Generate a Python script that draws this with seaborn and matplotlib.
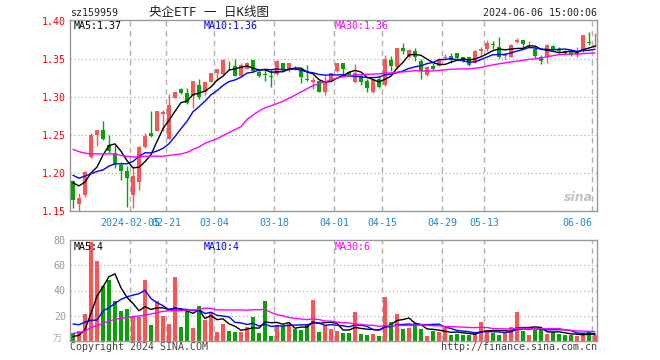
import numpy as np
import pandas as pd
import matplotlib
matplotlib.use("Agg")
import matplotlib.pyplot as plt
import seaborn as sns

# %% data (sz159959, daily K-line)
holidays = ["2024-02-09", "2024-02-12", "2024-02-13", "2024-02-14", "2024-02-15",
            "2024-02-16", "2024-04-04", "2024-04-05", "2024-05-01", "2024-05-02",
            "2024-05-03"]
days = pd.bdate_range("2024-01-22", "2024-06-06")
days = days[~days.isin(pd.to_datetime(holidays))]

opens = np.array([
    1.189, 1.159, 1.171, 1.221, 1.250, 1.256, 1.237, 1.226, 1.210, 1.202,
    1.171, 1.188, 1.234, 1.253, 1.255, 1.277, 1.245, 1.298, 1.310, 1.305,
    1.301, 1.315, 1.307, 1.320, 1.332, 1.330, 1.341, 1.341, 1.328, 1.337,
    1.348, 1.333, 1.330, 1.327, 1.330, 1.344, 1.336, 1.338, 1.336, 1.324,
    1.320, 1.321, 1.307, 1.321, 1.334, 1.345, 1.333, 1.319, 1.327, 1.321,
    1.307, 1.324, 1.315, 1.349, 1.339, 1.364, 1.353, 1.360, 1.347, 1.329,
    1.340, 1.341, 1.351, 1.354, 1.357, 1.352, 1.352, 1.344, 1.360, 1.363,
    1.369, 1.365, 1.354, 1.352, 1.372, 1.375, 1.367, 1.363, 1.353, 1.353,
    1.367, 1.362, 1.360, 1.360, 1.355, 1.360, 1.372, 1.367])
highs = np.array([
    1.191, 1.174, 1.202, 1.253, 1.257, 1.268, 1.250, 1.237, 1.215, 1.209,
    1.209, 1.235, 1.253, 1.281, 1.282, 1.283, 1.304, 1.307, 1.312, 1.312,
    1.321, 1.323, 1.321, 1.332, 1.336, 1.350, 1.347, 1.350, 1.344, 1.346,
    1.348, 1.337, 1.337, 1.335, 1.348, 1.345, 1.345, 1.340, 1.337, 1.342,
    1.326, 1.321, 1.327, 1.332, 1.345, 1.345, 1.334, 1.343, 1.329, 1.323,
    1.323, 1.327, 1.355, 1.354, 1.364, 1.371, 1.363, 1.364, 1.350, 1.340,
    1.345, 1.351, 1.356, 1.357, 1.358, 1.353, 1.353, 1.362, 1.365, 1.375,
    1.373, 1.379, 1.357, 1.369, 1.377, 1.375, 1.374, 1.365, 1.355, 1.369,
    1.368, 1.366, 1.362, 1.361, 1.366, 1.381, 1.385, 1.384])
lows = np.array([
    1.154, 1.150, 1.169, 1.220, 1.236, 1.243, 1.226, 1.207, 1.191, 1.155,
    1.154, 1.177, 1.233, 1.247, 1.255, 1.255, 1.244, 1.298, 1.304, 1.290,
    1.286, 1.297, 1.303, 1.319, 1.321, 1.329, 1.335, 1.327, 1.326, 1.336,
    1.333, 1.326, 1.321, 1.313, 1.329, 1.334, 1.333, 1.335, 1.318, 1.321,
    1.310, 1.306, 1.302, 1.319, 1.333, 1.329, 1.328, 1.318, 1.316, 1.307,
    1.305, 1.311, 1.314, 1.334, 1.336, 1.356, 1.351, 1.347, 1.323, 1.327,
    1.335, 1.341, 1.348, 1.345, 1.348, 1.346, 1.341, 1.344, 1.354, 1.360,
    1.363, 1.351, 1.350, 1.352, 1.371, 1.365, 1.364, 1.351, 1.343, 1.344,
    1.361, 1.357, 1.355, 1.354, 1.353, 1.359, 1.368, 1.365])
closes = np.array([
    1.165, 1.167, 1.201, 1.250, 1.256, 1.244, 1.229, 1.212, 1.202, 1.194,
    1.196, 1.234, 1.248, 1.248, 1.281, 1.280, 1.289, 1.307, 1.305, 1.292,
    1.321, 1.300, 1.320, 1.332, 1.336, 1.348, 1.340, 1.328, 1.342, 1.345,
    1.334, 1.328, 1.329, 1.326, 1.347, 1.335, 1.345, 1.336, 1.326, 1.322,
    1.322, 1.307, 1.319, 1.331, 1.345, 1.337, 1.329, 1.332, 1.320, 1.311,
    1.322, 1.313, 1.350, 1.340, 1.364, 1.360, 1.362, 1.353, 1.334, 1.339,
    1.337, 1.350, 1.353, 1.349, 1.351, 1.347, 1.342, 1.360, 1.363, 1.371,
    1.368, 1.352, 1.355, 1.368, 1.375, 1.369, 1.368, 1.354, 1.347, 1.368,
    1.362, 1.360, 1.357, 1.355, 1.357, 1.381, 1.371, 1.368])
# volume, 万手
volumes = np.array([
    6.6, 7.9, 21.0, 78.7, 63.4, 43.6, 48.3, 31.7, 23.8, 25.1,
    19.8, 19.3, 48.3, 12.4, 31.4, 19.8, 13.7, 50.7, 11.4, 23.5,
    10.3, 27.5, 16.6, 23.0, 7.1, 13.5, 7.7, 7.1, 7.1, 11.4,
    19.0, 6.3, 31.7, 4.0, 12.4, 11.9, 13.2, 9.2, 8.4, 12.4,
    32.5, 7.1, 12.4, 9.8, 7.9, 6.6, 6.6, 23.0, 5.8, 4.8,
    5.8, 4.2, 34.9, 15.0, 21.4, 9.5, 10.3, 14.5, 9.5, 4.0,
    7.9, 7.1, 10.3, 4.8, 5.3, 4.8, 4.8, 6.6, 15.0, 8.4,
    6.6, 4.8, 6.6, 11.1, 23.0, 7.9, 4.8, 9.0, 9.0, 5.8,
    7.1, 5.5, 5.0, 5.0, 4.2, 5.0, 7.4, 5.0])

# moving-average values at the left edge (they depend on days before the window)
ma5_head = [1.187, 1.183, 1.188, 1.200]
ma10_head = [1.197, 1.193, 1.196, 1.199, 1.202, 1.204, 1.209, 1.212, 1.212]
ma30_head = [1.231, 1.228, 1.226, 1.225, 1.225, 1.225, 1.225, 1.225, 1.223, 1.222,
             1.221, 1.221, 1.222, 1.222, 1.222, 1.222, 1.223, 1.224, 1.225, 1.227,
             1.231, 1.234, 1.239, 1.242, 1.245, 1.249, 1.253, 1.257, 1.261]
vma5_head = [3.5, 4.5, 9.0, 22.0]
vma10_head = [13.5, 12.9, 15.0, 16.4, 16.6, 23.8, 26.4, 29.8, 33.0]
vma30_head = [6.1, 6.6, 7.9, 10.6, 12.4, 14.0, 15.8, 17.2, 18.0, 18.5,
              19.3, 19.8, 20.6, 21.4, 22.4, 23.5, 24.0, 24.0, 24.0, 24.6,
              24.6, 25.1, 26.1, 25.9, 24.6, 24.6, 24.6, 24.6, 24.6]

tick_dates = ["2024-02-05", "2024-02-21", "2024-03-04", "2024-03-18", "2024-04-01",
              "2024-04-15", "2024-04-29", "2024-05-13", "2024-06-06"]
tick_labels = ["2024-02-05", "02-21", "03-04", "03-18", "04-01",
               "04-15", "04-29", "05-13", "06-06"]


def moving(values, n, head):
    ma = pd.Series(values).rolling(n).mean().to_numpy()
    ma[:len(head)] = head
    return ma


# %% style
sns.set_style("white")
plt.rcParams["font.family"] = ["DejaVu Sans Mono", "Noto Sans CJK SC"]

RED = "#fa5555"
GREEN = "#0aa00a"
FRAME = "#999999"
GRID = "#b0b0b0"
DATE_BLUE = "#1a8ad6"
FS = 7.2

W, H = 660, 360
fig = plt.figure(figsize=(6.6, 3.6), dpi=100)


def box(l, t, r, b):
    return [l / W, 1 - b / H, (r - l) / W, (b - t) / H]


def px(xp, yp):
    return xp / W, 1 - yp / H


ax = fig.add_axes(box(70, 20, 597, 211))
axv = fig.add_axes(box(70, 240, 597, 341))

x = np.arange(len(closes))
colors = np.where(closes >= opens, RED, GREEN)
tick_pos = [days.get_loc(pd.Timestamp(d)) - 0.5 for d in tick_dates]

for a in (ax, axv):
    a.set_xlim(-0.5, len(closes) - 0.67)
    for s in a.spines.values():
        s.set_color(FRAME)
        s.set_linewidth(1)
    for p in tick_pos:
        a.axvline(p, color=GRID, lw=1, ls=(0, (4, 3)), zorder=0)
    a.tick_params(length=0, labelsize=FS)

# %% price panel
for lvl in [1.20, 1.25, 1.30, 1.35]:
    ax.axhline(lvl, color=GRID, lw=0.9, ls=(0, (1, 2)), zorder=0)
ax.vlines(x, lows, highs, colors=colors, lw=1, zorder=2)
body = np.maximum(np.abs(closes - opens), 0.0008)
ax.bar(x, body, bottom=np.minimum(opens, closes), width=0.8, color=colors,
       linewidth=0, zorder=3)
sns.lineplot(x=x, y=moving(closes, 5, ma5_head), ax=ax, color="black", lw=1, zorder=4)
sns.lineplot(x=x, y=moving(closes, 10, ma10_head), ax=ax, color="#0000ff", lw=1, zorder=4)
sns.lineplot(x=x, y=moving(closes, 30, ma30_head), ax=ax, color="#ff00ff", lw=1, zorder=4)
ax.set_ylim(1.15, 1.401)
yt = [1.15, 1.20, 1.25, 1.30, 1.35, 1.40]
ax.set_yticks(yt, [f"{v:.2f}" for v in yt])
ax.tick_params(axis="y", colors="#ff0000", pad=3)
ax.set_xticks(tick_pos, tick_labels)
ax.tick_params(axis="x", colors=DATE_BLUE, pad=5)
ax.get_xticklabels()[-1].set_ha("right")
ax.set_xlabel("")
ax.set_ylabel("")

# %% volume panel
for lvl in [20, 40, 60]:
    axv.axhline(lvl, color=GRID, lw=0.9, ls=(0, (1, 2)), zorder=0)
axv.bar(x, volumes, width=0.8, color=colors, linewidth=0, zorder=2)
sns.lineplot(x=x, y=moving(volumes, 5, vma5_head), ax=axv, color="black", lw=1, zorder=4)
sns.lineplot(x=x, y=moving(volumes, 10, vma10_head), ax=axv, color="#0000ff", lw=1, zorder=4)
sns.lineplot(x=x, y=moving(volumes, 30, vma30_head), ax=axv, color="#ff00ff", lw=1, zorder=4)
axv.set_ylim(0, 80)
axv.set_yticks([20, 40, 60, 80], ["20", "40", "60", "80"])
axv.tick_params(axis="y", colors=FRAME, pad=3)
axv.set_xticks([])
axv.set_xlabel("")
axv.set_ylabel("")

# %% texts
fig.text(*px(70, 13), "sz159959", fontsize=FS, ha="left", va="center")
fig.text(*px(209, 12.5), "央企ETF 一 日K线图", fontsize=9, ha="center", va="center",
         color="#222222")
fig.text(*px(597, 13), "2024-06-06 15:00:06", fontsize=FS, ha="right", va="center")

fig.text(*px(74, 26), "MA5:1.37", fontsize=FS, color="black", va="center")
fig.text(*px(204, 26), "MA10:1.36", fontsize=FS, color="#0000ff", va="center")
fig.text(*px(335, 26), "MA30:1.36", fontsize=FS, color="#ff00ff", va="center")
fig.text(*px(74, 246.5), "MA5:4", fontsize=FS, color="black", va="center")
fig.text(*px(204, 246.5), "MA10:4", fontsize=FS, color="#0000ff", va="center")
fig.text(*px(335, 246.5), "MA30:6", fontsize=FS, color="#ff00ff", va="center")

fig.text(*px(57, 339), "万", fontsize=6.5, color="#aaaaaa", ha="center", va="center",
         family=["Noto Sans CJK SC", "DejaVu Sans"])
fig.text(*px(70, 346.5), "Copyright 2024 SINA.COM", fontsize=FS, color="#444444",
         ha="left", va="center")
fig.text(*px(597, 346.5), "http://finance.sina.com.cn", fontsize=FS, color="#444444",
         ha="right", va="center")
fig.text(*px(578, 197), "sina", fontsize=9, color="#999999", alpha=0.6,
         style="italic", weight="bold", ha="center", va="center", family="DejaVu Sans")

fig.savefig("out.png", dpi=100)
